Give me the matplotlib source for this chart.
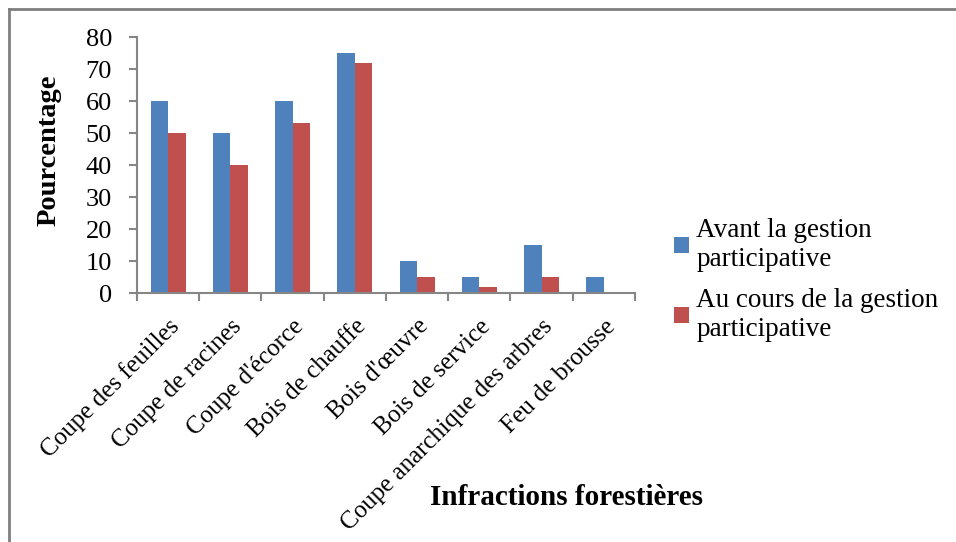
import matplotlib.pyplot as plt
from matplotlib.lines import Line2D
import numpy as np

categories = ["Coupe des feuilles", "Coupe de racines", "Coupe d'écorce",
              "Bois de chauffe", "Bois d'œuvre", "Bois de service",
              "Coupe anarchique des arbres", "Feu de brousse"]
avant = [60, 50, 60, 75, 10, 5, 15, 5]
au_cours = [50, 40, 53, 72, 5, 2, 5, 0]
series_labels = ["Avant la gestion\nparticipative",
                 "Au cours de la gestion\nparticipative"]
y_ticks = [0, 10, 20, 30, 40, 50, 60, 70, 80]

plt.rcParams['font.family'] = ['Liberation Serif', 'DejaVu Serif']
bleu = '#4F81BD'
rouge = '#C0504D'
gris = '#868686'

fig = plt.figure(figsize=(9.56, 5.42), dpi=100)
ax = fig.add_axes([0.1433, 0.4594, 0.5209, 0.4723])

x = np.arange(len(categories))
w = 0.28
ax.bar(x - w / 2, avant, w, color=bleu, label=series_labels[0])
ax.bar(x + w / 2, au_cours, w, color=rouge, label=series_labels[1])

ax.set_xlim(-0.5, len(categories) - 0.5)
ax.set_ylim(0, 80)
ax.set_yticks(y_ticks)
ax.tick_params(axis='y', labelsize=19, length=6, width=1.5, color=gris, pad=12)

# libellés au centre des groupes, graduations entre les groupes
ax.set_xticks(x)
ax.set_xticklabels(categories, rotation=45, ha='right', rotation_mode='anchor', fontsize=18)
ax.tick_params(axis='x', which='major', length=0, pad=16)
ax.set_xticks(np.arange(-0.5, len(categories)), minor=True)
ax.tick_params(axis='x', which='minor', length=6, width=1.5, color=gris)

for s in ['top', 'right']:
    ax.spines[s].set_visible(False)
for s in ['left', 'bottom']:
    ax.spines[s].set_color(gris)
    ax.spines[s].set_linewidth(1.5)

fig.text(0.0518, 0.7232, 'Pourcentage', fontsize=20.5, fontweight='bold',
         rotation=90, ha='center', va='center')
fig.text(0.593, 0.083, 'Infractions forestières', fontsize=21, fontweight='bold',
         ha='center', va='center')

fig.legend(loc='center left', bbox_to_anchor=(0.68, 0.483), frameon=False,
           fontsize=19.5, handlelength=0.55, handleheight=0.55, handletextpad=0.25,
           labelspacing=0.6)

# cadre du graphique
fig.add_artist(Line2D([0.009, 0.009], [0.0, 0.984], color='#7f7f7f', lw=2,
                      transform=fig.transFigure))
fig.add_artist(Line2D([0.009, 1.0], [0.984, 0.984], color='#7f7f7f', lw=2,
                      transform=fig.transFigure))

fig.savefig('out.png', dpi=100)
